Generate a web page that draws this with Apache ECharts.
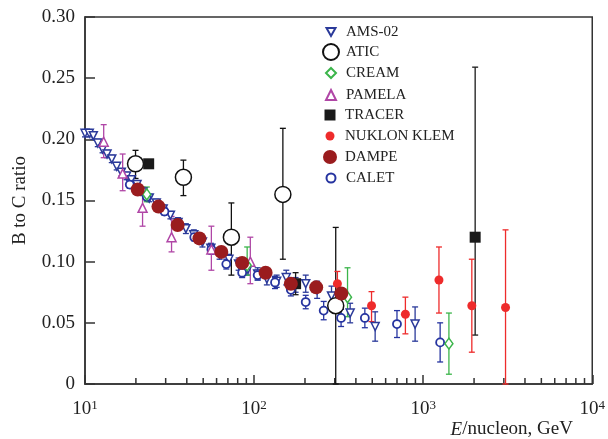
<!DOCTYPE html>
<html>
<head>
<meta charset="utf-8">
<script src="https://cdn.jsdelivr.net/npm/echarts@6/dist/echarts.min.js"></script>
<style>
  html, body { margin: 0; padding: 0; background: #fff; }
  #chart { width: 608px; height: 439px; }
</style>
</head>
<body>
<div id="chart"></div>
<script>
// AMS-02 (symmetric errors)
const amsEnergy = [10.0, 10.6, 11.2, 11.9, 12.7, 13.5, 14.4, 15.4, 16.4, 17.6, 18.8, 20.3, 22.0, 24.0, 26.4, 29.0, 32.0, 35.5, 39.5, 44.0, 49.5, 55.5, 62.5, 71.0, 81.0, 92.0, 105, 119, 136, 155, 176, 202, 236, 287, 370, 520, 896]
const amsRatio = [0.205, 0.205, 0.203, 0.197, 0.192, 0.188, 0.184, 0.178, 0.173, 0.170, 0.167, 0.163, 0.157, 0.152, 0.148, 0.143, 0.138, 0.132, 0.127, 0.122, 0.116, 0.111, 0.106, 0.102, 0.098, 0.094, 0.090, 0.086, 0.084, 0.087, 0.081, 0.082, 0.077, 0.072, 0.058, 0.047, 0.049]
const amsErr = [0.003, 0.003, 0.003, 0.003, 0.003, 0.003, 0.003, 0.003, 0.003, 0.003, 0.003, 0.003, 0.003, 0.003, 0.003, 0.003, 0.003, 0.004, 0.004, 0.004, 0.004, 0.004, 0.004, 0.004, 0.005, 0.005, 0.005, 0.005, 0.005, 0.006, 0.006, 0.007, 0.007, 0.008, 0.008, 0.012, 0.014]

// CALET (symmetric errors)
const caletEnergy = [18.4, 23.2, 29.5, 35.3, 44.3, 55.9, 68.5, 85, 105, 133, 165, 202, 258, 327, 452, 700, 1260]
const caletRatio = [0.163, 0.153, 0.141, 0.130, 0.120, 0.110, 0.098, 0.091, 0.089, 0.083, 0.077, 0.067, 0.060, 0.054, 0.054, 0.049, 0.034]
const caletErr = [0.003, 0.003, 0.003, 0.003, 0.003, 0.004, 0.004, 0.004, 0.004, 0.005, 0.005, 0.0055, 0.0075, 0.007, 0.008, 0.011, 0.016]

// ATIC
const aticEnergy = [19.9, 38.2, 73.4, 148, 304]
const aticRatio = [0.180, 0.169, 0.120, 0.155, 0.064]
const aticLow = [0.168, 0.154, 0.089, 0.102, 0]
const aticHigh = [0.191, 0.183, 0.148, 0.209, 0.128]

// CREAM
const creamEnergy = [23.2, 91, 357, 1420]
const creamRatio = [0.155, 0.097, 0.071, 0.033]
const creamLow = [0.149, 0.089, 0.055, 0.008]
const creamHigh = [0.161, 0.112, 0.095, 0.058]

// PAMELA
const pamelaEnergy = [12.9, 16.7, 21.9, 32.5, 55.9, 95]
const pamelaRatio = [0.198, 0.172, 0.144, 0.120, 0.110, 0.100]
const pamelaLow = [0.185, 0.158, 0.129, 0.108, 0.093, 0.082]
const pamelaHigh = [0.212, 0.188, 0.161, 0.137, 0.129, 0.120]

// TRACER
const tracerEnergy = [23.8, 176, 2030]
const tracerRatio = [0.180, 0.082, 0.120]
const tracerLow = [0.177, 0.073, 0.040]
const tracerHigh = [0.183, 0.091, 0.259]

// NUKLON KLEM
const nuklonEnergy = [311, 495, 785, 1240, 1940, 3070]
const nuklonRatio = [0.082, 0.064, 0.057, 0.085, 0.064, 0.0625]
const nuklonLow = [0.067, 0.051, 0.041, 0.058, 0.026, 0]
const nuklonHigh = [0.092, 0.0755, 0.071, 0.112, 0.102, 0.126]

// DAMPE
const dampeEnergy = [20.5, 27.2, 35.3, 47.5, 64.0, 85, 117, 165, 233, 328]
const dampeRatio = [0.159, 0.145, 0.130, 0.119, 0.108, 0.099, 0.091, 0.082, 0.079, 0.074]

// x 轴次刻度位置
const minorTickValues = [20, 30, 40, 50, 60, 70, 80, 90, 200, 300, 400, 500, 600, 700, 800, 900, 2000, 3000, 4000, 5000, 6000, 7000, 8000, 9000]

const serif = 'Liberation Serif'
const axisColor = '#333'

const points = (xs, ys) => xs.map((x, i) => [x, ys[i]])
const barsSym = (xs, ys, es) => xs.map((x, i) => [x, ys[i] - es[i], ys[i] + es[i]])
const barsLH = (xs, lo, hi) => xs.map((x, i) => [x, lo[i], hi[i]])

// 误差棒
const errorBarItem = (params, api) => {
  const x = api.value(0)
  const lo = api.coord([x, api.value(1)])
  const hi = api.coord([x, api.value(2)])
  const cap = 3
  const style = { stroke: api.visual('color'), lineWidth: 1.3 }
  return {
    type: 'group',
    children: [
      { type: 'line', shape: { x1: lo[0], y1: lo[1], x2: hi[0], y2: hi[1] }, style },
      { type: 'line', shape: { x1: lo[0] - cap, y1: lo[1], x2: lo[0] + cap, y2: lo[1] }, style },
      { type: 'line', shape: { x1: hi[0] - cap, y1: hi[1], x2: hi[0] + cap, y2: hi[1] }, style }
    ]
  }
}

const errorSeries = (data, color) => ({
  type: 'custom',
  renderItem: errorBarItem,
  data: data,
  encode: { x: 0, y: [1, 2] },
  itemStyle: { color: color },
  silent: true,
  z: 2
})

const markerSeries = (name, data, opt) => Object.assign({
  name: name,
  type: 'scatter',
  data: data,
  z: 3
}, opt)

const sets = [
  { name: 'AMS-02', color: '#2b3a9a', legendH: 9, icon: 'path://M0,0 L10,0 L5,9 Z' },
  { name: 'ATIC', color: '#111', legendH: 16 },
  { name: 'CREAM', color: '#3bb54a', legendH: 10 },
  { name: 'PAMELA', color: '#b046a6', legendH: 10 },
  { name: 'TRACER', color: '#1a1a1a', legendH: 11 },
  { name: 'NUKLON KLEM', color: '#ee2b2b', legendH: 9 },
  { name: 'DAMPE', color: '#9a1c1e', legendH: 14 },
  { name: 'CALET', color: '#2634a0', legendH: 9 }
]
const col = {}
sets.forEach((s) => { col[s.name] = s.color })

// 图例：每行一个，图标大小各不相同
const legendRows = [32, 52, 73, 95, 115, 136, 157, 178]
const legends = sets.map((s, i) => ({
  data: [s.icon ? { name: s.name, icon: s.icon } : s.name],
  left: 330 - s.legendH / 2,
  top: legendRows[i] - 9,
  padding: 0,
  itemWidth: s.legendH,
  itemHeight: s.legendH,
  itemGap: 0,
  selectedMode: false,
  textStyle: {
    fontFamily: serif,
    fontSize: 15,
    color: '#222',
    lineHeight: 18,
    padding: [0, 0, 0, 10 - s.legendH / 2]
  }
}))

const option = {
  animation: false,
  backgroundColor: '#fff',
  legend: legends,
  grid: {
    left: 85,
    top: 17,
    width: 509,
    height: 367,
    show: true,
    borderColor: axisColor,
    borderWidth: 1.5,
    backgroundColor: 'transparent'
  },
  xAxis: {
    type: 'log',
    logBase: 10,
    min: 10,
    max: 10000,
    axisLine: { lineStyle: { color: axisColor, width: 1.5 } },
    axisTick: { inside: true, length: 9, lineStyle: { color: axisColor, width: 1.5 } },
    splitLine: { show: false },
    axisLabel: {
      margin: 15,
      showMinLabel: true,
      showMaxLabel: true,
      formatter: (v) => '{b|10}{s|' + Math.round(Math.log10(v)) + '}',
      rich: {
        b: { fontFamily: serif, fontSize: 19, color: '#222', lineHeight: 20 },
        s: { fontFamily: serif, fontSize: 13, color: '#222', lineHeight: 12, verticalAlign: 'top' }
      }
    }
  },
  yAxis: {
    type: 'value',
    min: 0,
    max: 0.3,
    interval: 0.05,
    name: 'B to C ratio',
    nameLocation: 'middle',
    nameGap: 55,
    nameTextStyle: { fontFamily: serif, fontSize: 19, color: '#222' },
    axisLine: { show: true, lineStyle: { color: axisColor, width: 1.5 } },
    axisTick: { show: true, inside: true, length: 10, lineStyle: { color: axisColor, width: 1.5 } },
    splitLine: { show: false },
    axisLabel: {
      margin: 10,
      fontFamily: serif,
      fontSize: 19,
      color: '#222',
      formatter: (v) => (v === 0 ? '0' : v.toFixed(2))
    }
  },
  graphic: [
    {
      type: 'text',
      right: 35,
      top: 420,
      style: {
        text: '{i|E}/nucleon, GeV',
        rich: {
          i: { fontFamily: serif, fontSize: 19, fontStyle: 'italic', fill: '#222' }
        },
        fontFamily: serif,
        fontSize: 19,
        fill: '#222'
      }
    }
  ],
  series: [
    // x 轴次刻度
    {
      type: 'custom',
      silent: true,
      data: minorTickValues.map((v) => [v, 0]),
      encode: { x: 0, y: 1 },
      renderItem: (params, api) => {
        const p = api.coord([api.value(0), 0])
        return {
          type: 'line',
          shape: { x1: p[0], y1: p[1], x2: p[0], y2: p[1] - 6 },
          style: { stroke: axisColor, lineWidth: 1.5 }
        }
      },
      z: 1
    },
    errorSeries(barsSym(amsEnergy, amsRatio, amsErr), col['AMS-02']),
    errorSeries(barsSym(caletEnergy, caletRatio, caletErr), col['CALET']),
    errorSeries(barsLH(pamelaEnergy, pamelaLow, pamelaHigh), col['PAMELA']),
    errorSeries(barsLH(creamEnergy, creamLow, creamHigh), col['CREAM']),
    errorSeries(barsLH(aticEnergy, aticLow, aticHigh), col['ATIC']),
    errorSeries(barsLH(tracerEnergy, tracerLow, tracerHigh), col['TRACER']),
    errorSeries(barsLH(nuklonEnergy, nuklonLow, nuklonHigh), col['NUKLON KLEM']),
    markerSeries('AMS-02', points(amsEnergy, amsRatio), {
      symbol: 'triangle', symbolRotate: 180, symbolSize: 8,
      itemStyle: { color: '#fff', borderColor: col['AMS-02'], borderWidth: 1.5, opacity: 1 }
    }),
    markerSeries('CALET', points(caletEnergy, caletRatio), {
      symbol: 'circle', symbolSize: 8,
      itemStyle: { color: '#fff', borderColor: col['CALET'], borderWidth: 1.8, opacity: 1 }
    }),
    markerSeries('PAMELA', points(pamelaEnergy, pamelaRatio), {
      symbol: 'triangle', symbolSize: 9,
      itemStyle: { color: '#fff', borderColor: col['PAMELA'], borderWidth: 1.5, opacity: 1 }
    }),
    markerSeries('CREAM', points(creamEnergy, creamRatio), {
      symbol: 'diamond', symbolSize: [8, 11],
      itemStyle: { color: '#fff', borderColor: col['CREAM'], borderWidth: 1.5, opacity: 1 }
    }),
    markerSeries('ATIC', points(aticEnergy, aticRatio), {
      symbol: 'circle', symbolSize: 16,
      itemStyle: { color: '#fff', borderColor: col['ATIC'], borderWidth: 1.5, opacity: 1 }
    }),
    markerSeries('TRACER', points(tracerEnergy, tracerRatio), {
      symbol: 'rect', symbolSize: 11,
      itemStyle: { color: col['TRACER'], opacity: 1 }
    }),
    markerSeries('NUKLON KLEM', points(nuklonEnergy, nuklonRatio), {
      symbol: 'circle', symbolSize: 9,
      itemStyle: { color: col['NUKLON KLEM'], opacity: 1 }
    }),
    markerSeries('DAMPE', points(dampeEnergy, dampeRatio), {
      symbol: 'circle', symbolSize: 14,
      itemStyle: { color: col['DAMPE'], opacity: 1 },
      z: 4
    })
  ]
}

const myChart = echarts.init(document.getElementById('chart'))
myChart.setOption(option)
</script>
</body>
</html>
